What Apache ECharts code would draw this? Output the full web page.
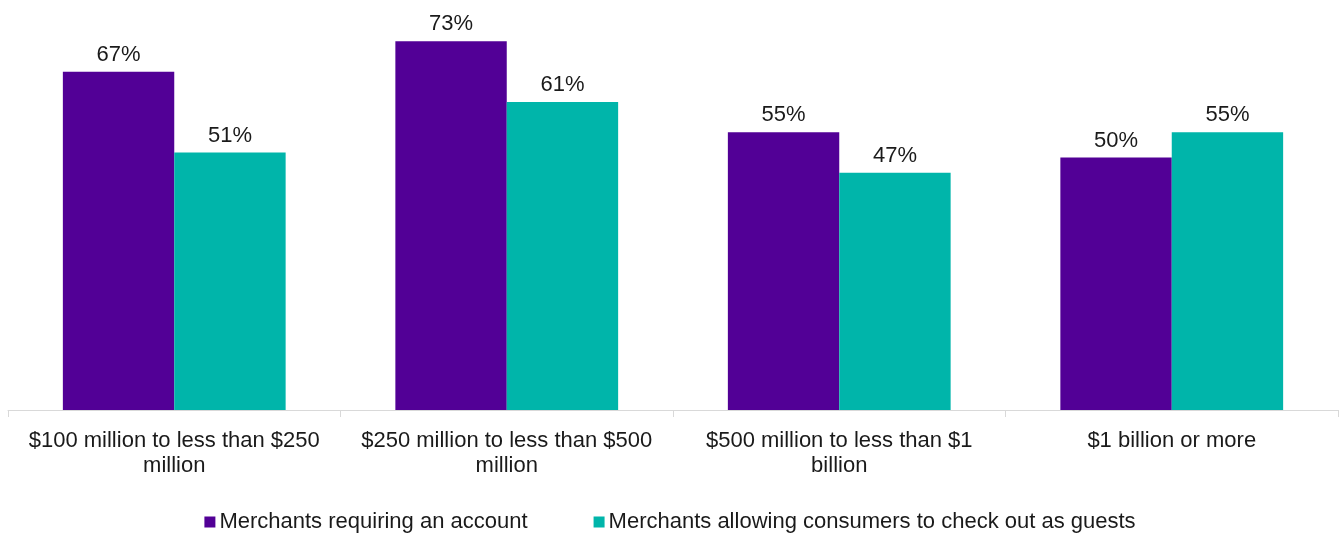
<!DOCTYPE html>
<html><head><meta charset="utf-8">
<script src="https://cdn.jsdelivr.net/npm/echarts@6/dist/echarts.min.js"></script>
<style>html,body{margin:0;padding:0;background:#fff}#c{width:1340px;height:533px}</style>
</head><body><div id="c"></div>
<script>
const categories = ["$100 million to less than $250\nmillion", "$250 million to less than $500\nmillion", "$500 million to less than $1\nbillion", "$1 billion or more"];
const seriesNames = ["Merchants requiring an account", "Merchants allowing consumers to check out as guests"];
const requiringAccount = [67, 73, 55, 50];
const allowingGuests = [51, 61, 47, 55];
const colors = ["#520096", "#00B5AA"];
const font = "Liberation Sans, Arial, sans-serif";
const chart = echarts.init(document.getElementById('c'));
const label = {show:true, position:'top', distance:6, formatter:'{c}%', color:'#1a1a1a', fontSize:22, fontFamily:font};
chart.setOption({
  animation:false,
  grid:{left:8, right:2, top:6, bottom:123, containLabel:false},
  legend:{top:506, left:'center', itemWidth:11, itemHeight:11, itemGap:66, icon:'rect',
    textStyle:{fontSize:22, fontFamily:font, color:'#1a1a1a', padding:[0,0,0,-1]}, data:seriesNames},
  xAxis:{type:'category', data:categories,
    axisLine:{lineStyle:{color:'#d9d9d9', width:1}},
    axisTick:{show:true, length:7, lineStyle:{color:'#d9d9d9'}},
    axisLabel:{fontSize:22, fontFamily:font, color:'#1a1a1a', margin:18, lineHeight:25, interval:0}},
  yAxis:{type:'value', min:0, max:80, show:false, splitLine:{show:false}},
  series:[
    {name:seriesNames[0], type:'bar', data:requiringAccount, itemStyle:{color:colors[0]}, barGap:'0%', barCategoryGap:'33%', label:label},
    {name:seriesNames[1], type:'bar', data:allowingGuests, itemStyle:{color:colors[1]}, barGap:'0%', barCategoryGap:'33%', label:label}
  ]
});
</script></body></html>
